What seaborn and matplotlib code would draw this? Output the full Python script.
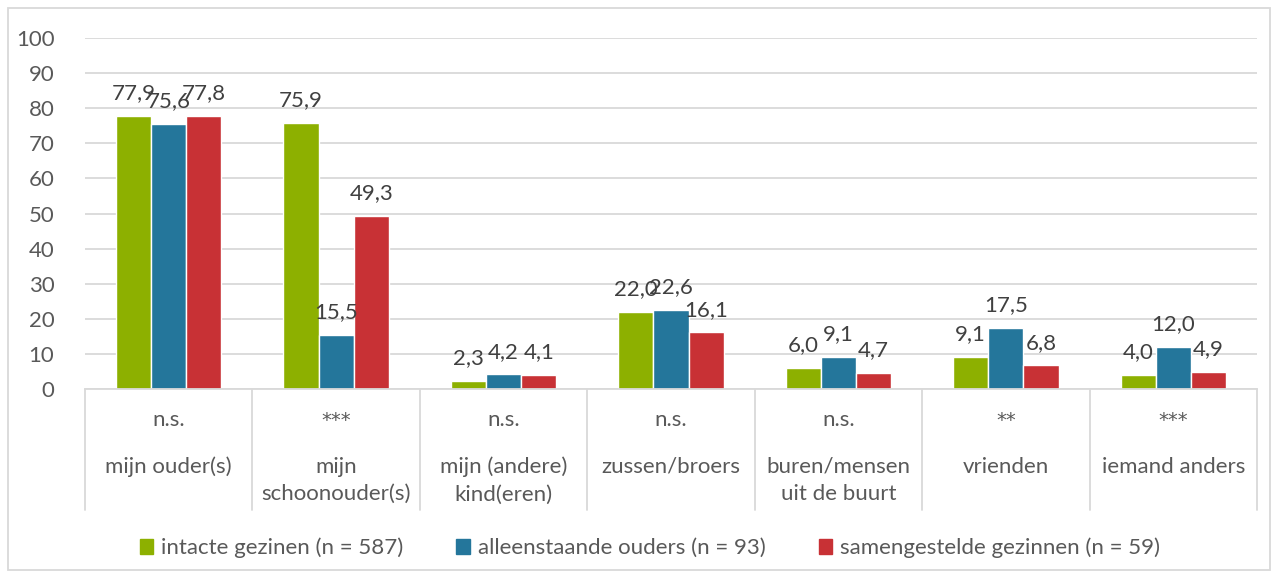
import pandas as pd
import matplotlib.pyplot as plt
import matplotlib.transforms as mtransforms
from matplotlib.patches import Rectangle
import seaborn as sns

# Data
categories = ['mijn ouder(s)', 'mijn\nschoonouder(s)', 'mijn (andere)\nkind(eren)',
              'zussen/broers', 'buren/mensen\nuit de buurt', 'vrienden', 'iemand anders']
significance = ['n.s.', '***', 'n.s.', 'n.s.', 'n.s.', '**', '***']
series = ['intacte gezinen (n = 587)', 'alleenstaande ouders (n = 93)',
          'samengestelde gezinnen (n = 59)']
intact = [77.9, 75.9, 2.3, 22.0, 6.0, 9.1, 4.0]
alleenstaand = [75.6, 15.5, 4.2, 22.6, 9.1, 17.5, 12.0]
samengesteld = [77.8, 49.3, 4.1, 16.1, 4.7, 6.8, 4.9]
colors = ['#8db000', '#24769b', '#c83135']

rows = []
for name, vals in zip(series, [intact, alleenstaand, samengesteld]):
    for cat, v in zip(categories, vals):
        rows.append({'categorie': cat, 'groep': name, 'waarde': v})
df = pd.DataFrame(rows)

sns.set_theme(style='white')
plt.rcParams['font.family'] = ['Lato', 'DejaVu Sans']
fs = 16

fig = plt.figure(figsize=(12.79, 5.78), dpi=100)
ax = fig.add_axes([85 / 1279, 189 / 578, 1172 / 1279, 351 / 578])

sns.barplot(data=df, x='categorie', y='waarde', hue='groep', order=categories,
            hue_order=series, palette=colors, width=0.63, saturation=1,
            gap=0, ax=ax, legend=False, errorbar=None)

ax.set_xlim(-0.5, len(categories) - 0.5)
ax.set_ylim(0, 100)
ax.set_yticks(range(0, 101, 10))
ax.yaxis.grid(True, color='#d9d9d9', linewidth=1.3)
ax.set_axisbelow(True)
ax.tick_params(axis='y', length=0, pad=22, labelsize=fs, labelcolor='#595959')
ax.set_xticks([])
ax.set_xlabel('')
ax.set_ylabel('')
for s in ['left', 'right', 'top']:
    ax.spines[s].set_visible(False)
ax.spines['bottom'].set_color('#d9d9d9')
ax.spines['bottom'].set_linewidth(1.3)

# value labels overlap a bit in the original too
for cont in ax.containers:
    ax.bar_label(cont, labels=[f'{b.get_height():.1f}'.replace('.', ',') for b in cont],
                 padding=9, fontsize=fs, color='#404040')

# table-like category axis
trans = mtransforms.blended_transform_factory(ax.transData, ax.transAxes)
for i in range(len(categories) + 1):
    ax.plot([i - 0.5, i - 0.5], [0, -0.345], transform=trans, color='#d9d9d9',
            linewidth=1.3, clip_on=False)
for i, (cat, sig) in enumerate(zip(categories, significance)):
    if '*' in sig:
        ax.text(i, -0.09, sig, transform=trans, ha='center', va='center',
                fontsize=fs - 2, color='#595959', family='DejaVu Sans')
    else:
        ax.text(i, -0.088, sig, transform=trans, ha='center', va='center',
                fontsize=fs, color='#595959')
    ax.text(i, -0.193, cat, transform=trans, ha='center', va='top',
            fontsize=fs, color='#595959', linespacing=1.45)

handles = [Rectangle((0, 0), 1, 1, color=c) for c in colors]
fig.legend(handles, series, loc='center', bbox_to_anchor=(0.508, 30 / 578), ncol=3,
           frameon=False, fontsize=fs, labelcolor='#595959', handlelength=0.6,
           handleheight=0.6, handletextpad=0.35, columnspacing=2.4)

fig.patches.append(Rectangle((8 / 1279, 8 / 578), 1262 / 1279, 562 / 578,
                             transform=fig.transFigure, fill=False,
                             edgecolor='#d9d9d9', linewidth=1.3))

fig.savefig('out.png', dpi=100)
plt.close(fig)
